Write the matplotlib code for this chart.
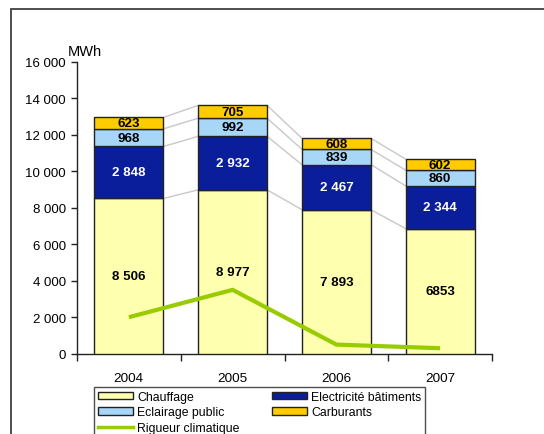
import matplotlib
matplotlib.use("Agg")
import matplotlib.pyplot as plt
from matplotlib.patches import Rectangle
from matplotlib.lines import Line2D
from matplotlib.ticker import FuncFormatter

plt.rcParams["font.family"] = ["Liberation Sans", "DejaVu Sans"]

# ---- data -----------------------------------------------------------
years = ["2004", "2005", "2006", "2007"]
chauffage = [8506, 8977, 7893, 6853]
electricite = [2848, 2932, 2467, 2344]
eclairage = [968, 992, 839, 860]
carburants = [623, 705, 608, 602]
rigueur = [2000, 3500, 500, 300]

# labels as printed on the chart (2007 chauffage has no space)
chauffage_txt = ["8 506", "8 977", "7 893", "6853"]
electricite_txt = ["2 848", "2 932", "2 467", "2 344"]
eclairage_txt = ["968", "992", "839", "860"]
carburants_txt = ["623", "705", "608", "602"]

series = [
    ("Chauffage", chauffage, chauffage_txt, "#FFFFB0", "black"),
    ("Electricité bâtiments", electricite, electricite_txt, "#0A1E9C", "white"),
    ("Eclairage public", eclairage, eclairage_txt, "#A8D6F7", "black"),
    ("Carburants", carburants, carburants_txt, "#FFCC00", "black"),
]

W, H = 544, 435
fig = plt.figure(figsize=(W / 100, H / 100), dpi=100)
ax = fig.add_axes([77 / W, 1 - 354.7 / H, (492 - 77) / W, (354.7 - 62.7) / H])

x = list(range(len(years)))
bw = 0.665
bottoms = [0] * len(years)
tops_per_series = []
handles = {}
for name, vals, txts, color, tcolor in series:
    bars = ax.bar(x, vals, bw, bottom=bottoms, color=color,
                  edgecolor="#222222", linewidth=1.0, zorder=3)
    handles[name] = bars
    for i in x:
        ax.text(i, bottoms[i] + vals[i] / 2, txts[i], ha="center", va="center",
                fontsize=9.6, fontweight="bold", color=tcolor, zorder=5)
    bottoms = [b + v for b, v in zip(bottoms, vals)]
    tops_per_series.append(list(bottoms))

# grey series lines joining segment tops between bars
for tops in tops_per_series:
    for i in range(len(years) - 1):
        ax.plot([i + bw / 2, i + 1 - bw / 2], [tops[i], tops[i + 1]],
                color="#C8C8C8", linewidth=1.0, zorder=2)

line, = ax.plot(x, rigueur, color="#99CC00", linewidth=3, zorder=6,
                solid_capstyle="butt")

ax.set_xlim(-0.5, 3.5)
ax.set_ylim(0, 16000)
ax.set_yticks(range(0, 16001, 2000))
ax.yaxis.set_major_formatter(FuncFormatter(lambda v, p: f"{int(v):,}".replace(",", " ")))
ax.set_xticks([-0.5, 0.5, 1.5, 2.5, 3.5])
ax.set_xticklabels([])
ax.set_xticks(x, minor=True)
ax.set_xticklabels(years, minor=True)
ax.tick_params(axis="x", which="minor", length=0, pad=13, labelsize=9.7)
ax.tick_params(axis="x", which="major", direction="out", length=5, width=1, color="#222222")
ax.tick_params(axis="y", direction="out", length=4, width=1, color="#222222",
               labelsize=9.5, pad=4)
for s in ["top", "right"]:
    ax.spines[s].set_visible(False)
for s in ["left", "bottom"]:
    ax.spines[s].set_color("#222222")
    ax.spines[s].set_linewidth(1.0)
ax.set_facecolor("none")

fig.text(68 / W, 1 - 52 / H, "MWh", fontsize=10.5, ha="left", va="center")

# outer frame of the original chart area (cut by the crop)
fig.patches.append(Rectangle((11 / W, -0.1), 1.2, 1.1 - 10 / H,
                             transform=fig.transFigure, fill=False,
                             edgecolor="#404040", linewidth=1.3))

leg_handles = [handles["Chauffage"], handles["Eclairage public"],
               Line2D([], [], color="#99CC00", linewidth=2.5),
               handles["Electricité bâtiments"], handles["Carburants"]]
leg_labels = ["Chauffage", "Eclairage public", "Rigueur climatique",
              "Electricité bâtiments", "Carburants"]
leg = fig.legend(leg_handles, leg_labels, ncol=2, loc="upper left",
                 bbox_to_anchor=(94 / W, 1 - 388 / H), borderaxespad=0,
                 fontsize=8.8, frameon=True, fancybox=False,
                 handlelength=2.9, handleheight=0.55, handletextpad=0.35,
                 labelspacing=0.3, columnspacing=2.6, borderpad=0.3)
leg.get_frame().set_edgecolor("#222222")
leg.get_frame().set_linewidth(1.0)

fig.savefig("out.png", dpi=100)
